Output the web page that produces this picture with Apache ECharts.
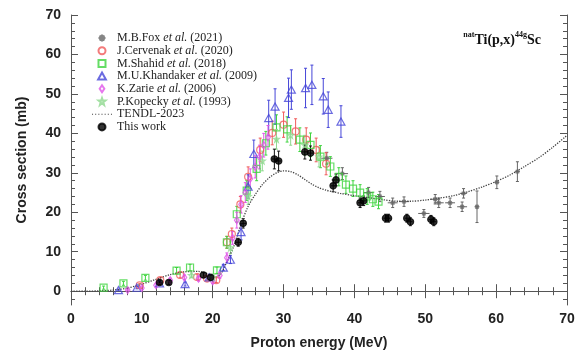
<!DOCTYPE html>
<html>
<head>
<meta charset="utf-8">
<script src="https://cdn.jsdelivr.net/npm/echarts@6/dist/echarts.min.js"></script>
<style>
  html, body { margin: 0; padding: 0; background: #fff; }
  #chart { width: 582px; height: 352px; }
</style>
</head>
<body>
<div id="chart"></div>
<script>
// each point: [energy (MeV), cross section (mb), error mb, error MeV]
const foxData = [
  [36.1, 33.7, 1.5, 0.8], [38.3, 29.8, 1.5, 0.8], [42.0, 25.0, 1.3, 0.7], [43.6, 24.0, 1.3, 0.7],
  [45.4, 22.4, 1.2, 0.7], [47.0, 22.7, 1.2, 0.7], [49.8, 19.7, 1.0, 0.8], [51.4, 23.3, 1.2, 0.7],
  [51.9, 22.4, 1.2, 0.7], [53.5, 22.4, 1.2, 0.7], [55.2, 21.4, 1.2, 0.7], [55.4, 24.8, 1.2, 0.5],
  [57.3, 21.4, 4.0, 0.3], [60.1, 27.6, 1.6, 0.3], [63.0, 30.3, 2.5, 0.3]
]
const cervenakData = [
  [9.7, 1.5, 0.5, 0], [12.6, 2.8, 0.6, 0], [15.4, 4.1, 0.7, 0], [17.8, 3.6, 0.7, 0],
  [19.2, 3.2, 0.6, 0], [20.5, 2.8, 0.6, 0], [22.0, 12.4, 1.5, 0], [22.7, 14.5, 1.5, 0],
  [23.9, 22.0, 2.0, 0], [25.0, 29.0, 2.5, 0], [26.7, 35.8, 3.0, 0], [28.4, 40.1, 3.0, 0],
  [30.0, 42.2, 3.2, 0], [31.7, 40.5, 3.2, 0], [33.2, 38.4, 3.0, 0], [34.6, 35.8, 3.0, 0],
  [36.0, 32.3, 2.8, 0]
]
const shahidData = [
  [4.6, 0.9, 0.4, 0], [7.4, 2.0, 0.5, 0], [10.5, 3.4, 0.6, 0], [14.9, 5.2, 0.8, 0],
  [16.8, 6.0, 0.8, 0], [20.6, 5.3, 0.8, 0], [22.0, 12.4, 1.5, 0], [23.4, 19.5, 2.0, 0],
  [24.8, 25.5, 2.5, 0], [26.2, 31.0, 3.0, 0], [27.5, 37.5, 3.0, 0], [29.0, 41.5, 3.2, 0],
  [30.5, 41.0, 3.2, 0], [32.3, 38.4, 3.0, 0], [33.8, 37.1, 3.0, 0], [35.2, 34.1, 2.8, 0],
  [36.6, 31.6, 2.5, 0], [37.8, 29.0, 2.3, 0], [38.8, 27.0, 2.2, 0], [39.8, 26.0, 2.0, 0],
  [40.8, 25.0, 2.0, 0], [41.8, 24.0, 2.0, 0], [42.6, 23.3, 1.8, 0], [43.4, 22.7, 1.8, 0]
]
const khandakerData = [
  [6.7, 0.3, 0.2, 0], [9.3, 0.9, 0.3, 0], [12.5, 2.0, 0.4, 0], [16.1, 1.8, 0.5, 0],
  [19.5, 3.5, 0.6, 0], [21.5, 6.0, 0.8, 0], [22.5, 8.0, 1.0, 0], [24.0, 15.0, 2.0, 0],
  [25.0, 26.5, 3.0, 0], [25.8, 34.8, 3.5, 0], [27.9, 43.9, 4.5, 0], [28.8, 46.8, 4.5, 0],
  [30.7, 49.0, 5.0, 0], [31.1, 51.1, 5.0, 0], [33.1, 51.5, 5.0, 0], [34.0, 52.3, 5.0, 0],
  [35.6, 49.4, 4.5, 0], [36.3, 46.0, 4.5, 0], [38.1, 43.0, 4.0, 0]
]
const zarieData = [
  [8.0, 0.3, 0.2, 0], [10.0, 0.8, 0.3, 0], [12.0, 1.5, 0.4, 0], [14.0, 2.8, 0.5, 0],
  [16.0, 3.5, 0.6, 0], [18.0, 3.2, 0.6, 0], [20.0, 2.5, 0.5, 0], [21.0, 4.0, 0.7, 0],
  [22.0, 8.5, 1.2, 0], [22.8, 13.5, 1.6, 0], [23.4, 18.0, 2.0, 0], [24.0, 22.0, 2.2, 0],
  [24.6, 25.0, 2.5, 0], [25.3, 28.5, 2.5, 0], [26.0, 31.5, 2.8, 0], [26.6, 34.0, 3.0, 0],
  [27.2, 37.0, 3.0, 0], [27.8, 39.0, 3.0, 0]
]
const kopeckyData = [
  [17.0, 4.0, 0.6, 0], [20.0, 3.5, 0.6, 0], [22.5, 11.0, 1.5, 0], [25.0, 24.0, 2.0, 0],
  [27.0, 33.0, 2.5, 0], [29.0, 38.5, 2.5, 0], [31.0, 39.5, 2.5, 0], [33.0, 37.0, 2.5, 0],
  [35.0, 34.0, 2.5, 0]
]
const thisWorkData = [
  [12.5, 2.2, 0.5, 0], [13.8, 2.2, 0.5, 0], [18.7, 4.1, 0.6, 0], [19.7, 3.5, 0.6, 0],
  [23.6, 12.4, 1.0, 0.4], [24.3, 17.2, 1.2, 0.4], [28.7, 33.5, 2.5, 0.4], [29.3, 33.0, 2.5, 0.4],
  [33.0, 35.3, 1.8, 0.4], [33.8, 35.0, 1.8, 0.4], [37.0, 26.7, 1.5, 0.3], [37.4, 28.2, 1.5, 0.3],
  [40.8, 22.4, 1.2, 0.3], [41.3, 22.9, 1.2, 0.3], [44.4, 18.5, 1.0, 0.3], [44.8, 18.5, 1.0, 0.3],
  [47.4, 18.5, 1.0, 0.3], [47.9, 17.6, 1.0, 0.3], [50.8, 18.2, 1.0, 0.3], [51.2, 17.6, 1.0, 0.3]
]
const tendlCurve = [
  [0, 0], [2, 0], [4, 0.1], [6, 0.3], [8, 0.8], [10, 1.8], [12, 3.0], [14, 4.2], [16, 4.9],
  [18, 5.0], [19, 4.6], [20, 3.9], [20.6, 3.7], [21.2, 4.5], [22, 7.5], [23, 11.5], [24, 17.0],
  [25, 21.5], [26, 24.5], [27, 27.0], [28, 28.8], [29, 30.0], [30, 30.5], [31, 30.3], [32, 29.5],
  [33, 28.3], [34, 27.1], [35, 26.2], [36, 25.6], [37, 25.2], [38, 24.8], [40, 24.2], [42, 23.7],
  [44, 23.2], [46, 22.8], [48, 22.8], [50, 23.1], [52, 23.6], [54, 24.2], [56, 25.2], [58, 26.4],
  [60, 27.8], [62, 29.5], [64, 31.6], [66, 33.8], [68, 36.5], [70, 39.5]
]
const yMajorTicks = [0, 10, 20, 30, 40, 50, 60, 70]
const yMinorTicks = [-2, 2, 4, 6, 8, 12, 14, 16, 18, 22, 24, 26, 28, 32, 34, 36, 38, 42, 44, 46, 48,
  52, 54, 56, 58, 62, 64, 66, 68]

const frameColor = '#555'
const sansBold = { fontFamily: 'Liberation Sans', fontWeight: 'bold', fontSize: 14, color: '#222' }

// marker shapes as paths so the legend keeps their aspect
const starSymbol = 'path://M0,-5L0,5M-5,0L5,0M-3.5,-3.5L3.5,3.5M-3.5,3.5L3.5,-3.5'
const squareSymbol = 'path://M0,0L10,0L10,10L0,10Z'
const triangleSymbol = 'path://M5,0L10,9L0,9Z'
const diamondSymbol = 'path://M4,0L8,6L4,12L0,6Z'
const kopeckySymbol = 'path://M0,-5L1.2,-1.5L5,-1.5L2,1L3,5L0,2.5L-3,5L-2,1L-5,-1.5L-1.2,-1.5Z'
const dottedIcon = 'path://M0,0h1v1h-1zM3,0h1v1h-1zM6,0h1v1h-1zM9,0h1v1h-1zM12,0h1v1h-1zM15,0h1v1h-1zM18,0h1v1h-1z'

function errorBars (name, data, color) {
  return {
    type: 'custom',
    name: name + ' err',
    silent: true,
    z: 1,
    encode: { x: 0, y: 1 },
    renderItem (params, api) {
      const x = api.value(0)
      const y = api.value(1)
      const dy = api.value(2)
      const dx = api.value(3)
      const top = api.coord([x, y + dy])
      const bot = api.coord([x, y - dy])
      const style = { stroke: color, lineWidth: 1 }
      const children = [
        { type: 'line', shape: { x1: top[0], y1: top[1], x2: bot[0], y2: bot[1] }, style },
        { type: 'line', shape: { x1: top[0] - 1.5, y1: top[1], x2: top[0] + 1.5, y2: top[1] }, style },
        { type: 'line', shape: { x1: bot[0] - 1.5, y1: bot[1], x2: bot[0] + 1.5, y2: bot[1] }, style }
      ]
      if (dx > 0) {
        const l = api.coord([x - dx, y])
        const r = api.coord([x + dx, y])
        children.push({ type: 'line', shape: { x1: l[0], y1: l[1], x2: r[0], y2: r[1] }, style })
      }
      return { type: 'group', children }
    },
    data
  }
}

function points (name, data, symbol, size, color, fill) {
  return {
    type: 'scatter',
    name,
    symbol,
    symbolSize: size,
    symbolKeepAspect: true,
    z: 3,
    itemStyle: { color: fill, borderColor: color, borderWidth: 1.2 },
    data
  }
}

const chart = echarts.init(document.getElementById('chart'))
chart.setOption({
  backgroundColor: '#fff',
  animation: false,
  title: {
    text: '{s|nat}{b|Ti(p,x)}{s|44g}{b|Sc}',
    right: 36,
    top: 26,
    textStyle: {
      rich: {
        b: { fontFamily: 'Liberation Serif', fontWeight: 'bold', fontSize: 14, color: '#111', lineHeight: 16, verticalAlign: 'bottom' },
        s: { fontFamily: 'Liberation Serif', fontWeight: 'bold', fontSize: 8, color: '#111', lineHeight: 9, verticalAlign: 'top' }
      }
    }
  },
  grid: { left: 71, right: 15, top: 15, bottom: 47, containLabel: false, outerBoundsMode: 'none' },
  legend: {
    orient: 'vertical',
    left: 87,
    top: 27,
    itemWidth: 20,
    itemHeight: 7,
    itemGap: 0.7,
    data: [
      { name: 'M.B.Fox et al. (2021)' },
      { name: 'J.Cervenak et al. (2020)' },
      { name: 'M.Shahid et al. (2018)' },
      { name: 'M.U.Khandaker et al. (2009)' },
      { name: 'K.Zarie et al. (2006)' },
      { name: 'P.Kopecky et al. (1993)' },
      { name: 'TENDL-2023', icon: dottedIcon, itemStyle: { color: '#444' } },
      { name: 'This work' }
    ],
    formatter: name => name.replace('et al.', '{i|et al.}'),
    textStyle: {
      fontFamily: 'Liberation Serif',
      fontSize: 12,
      lineHeight: 12,
      color: '#222',
      rich: {
        i: { fontFamily: 'Liberation Serif', fontStyle: 'italic', fontSize: 12, lineHeight: 12, color: '#222' }
      }
    }
  },
  xAxis: [
    {
      type: 'value', position: 'bottom', min: 0, max: 70, interval: 10,
      name: 'Proton energy (MeV)', nameLocation: 'middle', nameGap: 31,
      nameTextStyle: sansBold,
      axisLine: { show: true, lineStyle: { color: frameColor } },
      axisTick: { inside: true, length: 7, lineStyle: { color: frameColor } },
      minorTick: { show: true, splitNumber: 5, length: 4, lineStyle: { color: frameColor } },
      axisLabel: Object.assign({ margin: 7 }, sansBold),
      splitLine: { show: false }
    },
    {
      type: 'value', position: 'top', min: 0, max: 70, interval: 10,
      axisLine: { show: true, lineStyle: { color: frameColor } },
      axisTick: { inside: true, length: 7, lineStyle: { color: frameColor } },
      minorTick: { show: true, splitNumber: 5, length: 4, lineStyle: { color: frameColor } },
      axisLabel: { show: false },
      splitLine: { show: false }
    }
  ],
  yAxis: [
    {
      type: 'value', position: 'left', min: -3.5, max: 70,
      name: 'Cross section (mb)', nameLocation: 'middle', nameGap: 42,
      nameTextStyle: sansBold,
      axisLine: { show: true, lineStyle: { color: frameColor } },
      axisTick: { inside: true, length: 7, customValues: yMajorTicks, lineStyle: { color: frameColor } },
      axisLabel: Object.assign({ margin: 10, customValues: yMajorTicks }, sansBold),
      splitLine: { show: false }
    },
    {
      type: 'value', position: 'left', min: -3.5, max: 70,
      axisLine: { show: false },
      axisTick: { inside: true, length: 4, customValues: yMinorTicks, lineStyle: { color: frameColor } },
      axisLabel: { show: false },
      splitLine: { show: false }
    },
    {
      type: 'value', position: 'right', min: -3.5, max: 70,
      axisLine: { show: true, lineStyle: { color: frameColor } },
      axisTick: { inside: true, length: 7, customValues: yMajorTicks, lineStyle: { color: frameColor } },
      axisLabel: { show: false },
      splitLine: { show: false }
    },
    {
      type: 'value', position: 'right', min: -3.5, max: 70,
      axisLine: { show: false },
      axisTick: { inside: true, length: 4, customValues: yMinorTicks, lineStyle: { color: frameColor } },
      axisLabel: { show: false },
      splitLine: { show: false }
    }
  ],
  series: [
    {
      type: 'line',
      name: 'TENDL-2023',
      symbol: 'none',
      z: 2,
      smooth: 0.3,
      lineStyle: { type: 'dotted', color: '#444', width: 1.3 },
      itemStyle: { color: '#444' },
      data: tendlCurve
    },
    errorBars('fox', foxData, '#666'),
    errorBars('cervenak', cervenakData, '#f05a5a'),
    errorBars('shahid', shahidData, '#3fd43f'),
    errorBars('khandaker', khandakerData, '#4646d8'),
    errorBars('zarie', zarieData, '#e055e8'),
    errorBars('kopecky', kopeckyData, '#8fd88f'),
    errorBars('this', thisWorkData, '#111'),
    points('M.B.Fox et al. (2021)', foxData, starSymbol, 5, '#666', '#666'),
    points('J.Cervenak et al. (2020)', cervenakData, 'circle', 7, '#f05a5a', 'rgba(0,0,0,0)'),
    points('M.Shahid et al. (2018)', shahidData, squareSymbol, 7, '#3fd43f', 'rgba(0,0,0,0)'),
    points('M.U.Khandaker et al. (2009)', khandakerData, triangleSymbol, 8, '#4646d8', 'rgba(0,0,0,0)'),
    points('K.Zarie et al. (2006)', zarieData, diamondSymbol, 7, '#e055e8', 'rgba(0,0,0,0)'),
    points('P.Kopecky et al. (1993)', kopeckyData, kopeckySymbol, 6, '#8fd88f', 'rgba(0,0,0,0)'),
    points('This work', thisWorkData, 'circle', 6.5, '#000', '#000')
  ]
})
</script>
</body>
</html>
